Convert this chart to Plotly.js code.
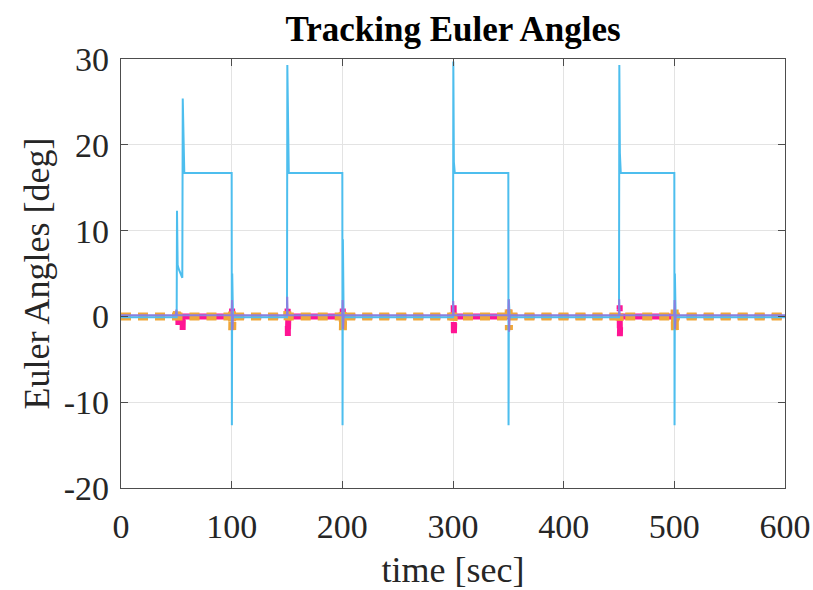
<!DOCTYPE html>
<html>
<head>
<meta charset="utf-8">
<script src="https://cdn.plot.ly/plotly-3.0.1.min.js"></script>
<style>html,body{margin:0;padding:0;background:#fff;}#chart{width:813px;height:590px;}</style>
</head>
<body>
<div id="chart"></div>
<script>
// Magenta dashed series (time, value)
const tMag = [0, 51.5, 51.7, 51.9, 52.1, 55.5, 55.7, 55.9, 56.1,
              100.2, 100.4, 100.6,
              150.4, 150.6, 150.8, 151.0, 151.2,
              200.2, 200.4, 200.6,
              300.4, 300.6, 300.8, 301.0, 301.2,
              350.2, 350.4, 350.6,
              450.4, 450.6, 450.8, 451.0, 451.2,
              500.2, 500.4, 500.6, 600];
const vMag = [0, 0, 0.5, -1.0, 0, 0, -1.7, 0.3, 0,
              0, 0.9, 0,
              0, 1.3, -2.3, -1.5, 0,
              0, 0.9, 0,
              0, 1.3, -2.3, -1.5, 0,
              0, 0.9, 0,
              0, 1.3, -2.3, -1.5, 0,
              0, 0.9, 0, 0];

// Orange dashed series
const tOra = [0, 50.3, 50.5, 50.7, 50.9,
              100.1, 100.3, 100.5, 100.7,
              150.1, 150.3, 150.5, 150.7,
              200.1, 200.3, 200.5, 200.7,
              300.1, 300.3, 300.5, 300.7,
              350.1, 350.3, 350.5, 350.7,
              450.1, 450.3, 450.5, 450.7,
              500.1, 500.3, 500.5, 500.7, 600];
const vOra = [0, 0, 0.6, -0.4, 0,
              0, 0.8, -1.6, 0,
              0, 0.6, -0.5, 0,
              0, 0.8, -1.6, 0,
              0, 0.6, -0.5, 0,
              0, 0.8, -1.6, 0,
              0, 0.6, -0.5, 0,
              0, 0.8, -1.6, 0, 0];

// Light blue solid series
const tBlue = [0, 50.3, 50.6, 51.2, 52.2, 55.4, 55.8, 56.4, 57.2, 100, 100.2, 100.5, 101.2, 150, 150.3, 150.8, 151.6, 200, 200.2, 200.5, 201.2, 300, 300.3, 300.8, 301.6, 350, 350.2, 350.5, 351.2, 450, 450.3, 450.8, 451.6, 500, 500.2, 500.5, 501.2, 600];
const vBlue = [-0.1, -0.1, 12.3, 6.0, 5.5, 4.5, 25.4, 18.5, 16.7, 16.7, -12.7, 5.0, -0.1, -0.1, 29.3, 20.0, 16.7, 16.7, -12.7, 9.0, -0.1, -0.1, 29.7, 18.0, 16.7, 16.7, -12.7, 2.0, -0.1, -0.1, 29.3, 19.0, 16.7, 16.7, -12.7, 5.0, -0.1, -0.1];

// Purple solid series
const tPur = [0, 49.6, 50.0, 50.6, 100, 100.3, 100.7, 101.2, 150, 150.2, 150.6, 200, 200.3, 200.7, 201.2, 300, 300.2, 300.6, 350, 350.3, 350.7, 351.2, 450, 450.2, 450.6, 500, 500.3, 500.7, 501.2, 600];
const vPur = [0.12, 0.12, 0.8, 0.12, 0.12, 1.9, -1.6, 0.12, 0.12, 2.3, 0.12, 0.12, 1.9, -1.5, 0.12, 0.12, 1.8, 0.12, 0.12, 2.0, -1.8, 0.12, 0.12, 2.0, 0.12, 0.12, 1.9, -1.5, 0.12, 0.12];

const xTicks = [0, 100, 200, 300, 400, 500, 600];
const yTicks = [-20, -10, 0, 10, 20, 30];

const font = "Liberation Serif, Times New Roman, serif";

const traces = [
  {x: tMag, y: vMag, mode: 'lines', line: {color: '#FF1493', width: 6, dash: '10px,7px'}, hoverinfo: 'skip'},
  {x: tOra, y: vOra, mode: 'lines', line: {color: '#F0A73A', width: 8, dash: '10px,7px'}, hoverinfo: 'skip'},
  {x: tBlue, y: vBlue, mode: 'lines', line: {color: '#4DBEEE', width: 2}, hoverinfo: 'skip'},
  {x: tPur, y: vPur, mode: 'lines', line: {color: '#8A7FE0', width: 2}, hoverinfo: 'skip'}
];

const axisCommon = {
  showline: true, linecolor: '#4d4d4d', linewidth: 1.2, mirror: 'ticks',
  ticks: 'inside', ticklen: 7, tickwidth: 1, tickcolor: '#4d4d4d',
  showgrid: true, gridcolor: '#e3e3e3', gridwidth: 1,
  zeroline: false,
  tickfont: {family: font, size: 34, color: '#262626'}
};

const layout = {
  width: 813, height: 590,
  margin: {l: 121, r: 28, t: 59, b: 102},
  paper_bgcolor: '#ffffff', plot_bgcolor: '#ffffff',
  showlegend: false,
  title: {text: '<b>Tracking Euler Angles</b>', font: {family: font, size: 35, color: '#000000'},
          x: 0.5, xref: 'paper', y: 0.952, yref: 'container', yanchor: 'middle'},
  xaxis: Object.assign({}, axisCommon, {
    range: [0, 600], tickvals: xTicks, ticktext: xTicks.map(String),
    ticklabelstandoff: 8,
    title: {text: 'time [sec]', font: {family: font, size: 36, color: '#262626'}, standoff: 14}
  }),
  yaxis: Object.assign({}, axisCommon, {
    range: [-20, 30], tickvals: yTicks, ticktext: yTicks.map(String),
    ticklabelstandoff: 4,
    title: {text: 'Euler Angles [deg]', font: {family: font, size: 36, color: '#262626'}, standoff: 3}
  })
};

Plotly.newPlot('chart', traces, layout, {staticPlot: true, displayModeBar: false});
</script>
</body>
</html>
